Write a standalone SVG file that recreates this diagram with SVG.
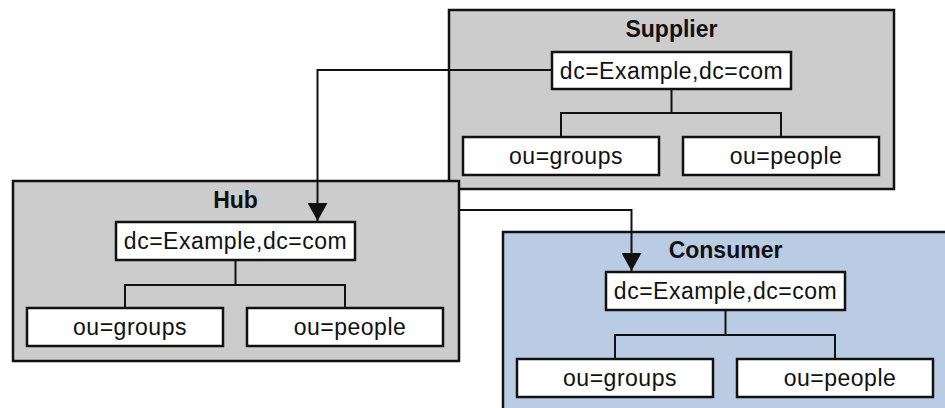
<svg xmlns="http://www.w3.org/2000/svg" width="945" height="408" viewBox="0 0 945 408">
<defs>
<style>
.outer{stroke:#111;stroke-width:2.5}
.gray{fill:#cccccc}
.blue{fill:#b9cce4}
.box{fill:#fff;stroke:#111;stroke-width:2.5}
.tree{fill:none;stroke:#111;stroke-width:2}
.conn{fill:none;stroke:#111;stroke-width:2}
.title{font-family:"Liberation Sans",Arial,sans-serif;font-weight:bold;font-size:23px;fill:#111;text-anchor:middle}
.lbl{font-family:"Liberation Sans",Arial,sans-serif;font-size:23px;letter-spacing:0.5px;fill:#111;text-anchor:middle}
</style>
<marker id="arrow" markerUnits="userSpaceOnUse" markerWidth="22" markerHeight="20" refX="19" refY="10.5" orient="auto" viewBox="0 0 22 21">
<path d="M0,0 L19,10.5 L0,21 Z" fill="#111"/>
</marker>
</defs>
<rect width="945" height="408" fill="#fff"/>

<g id="supplier">
<rect class="outer gray" x="449" y="10" width="445" height="179"/>
<text class="title" x="671.5" y="37">Supplier</text>
<g id="supplier-root"><rect class="box" x="552" y="52" width="239" height="37"/><text class="lbl" x="671.5" y="79">dc=Example,dc=com</text></g>
<path class="tree" d="M671.5,89 V113 M561,137 V113 H781 V137"/>
<g id="supplier-groups"><rect class="box" x="463" y="137" width="196" height="38"/><text class="lbl" x="566" y="164">ou=groups</text></g>
<g id="supplier-people"><rect class="box" x="683" y="137" width="196" height="38"/><text class="lbl" x="786" y="164">ou=people</text></g>
</g>

<g id="hub">
<rect class="outer gray" x="13" y="181" width="446" height="180"/>
<text class="title" x="235.5" y="208">Hub</text>
<g id="hub-root"><rect class="box" x="116" y="222" width="239" height="38"/><text class="lbl" x="235.5" y="249">dc=Example,dc=com</text></g>
<path class="tree" d="M235.5,260 V285 M125,308 V285 H345 V308"/>
<g id="hub-groups"><rect class="box" x="27" y="308" width="196" height="38"/><text class="lbl" x="130" y="335">ou=groups</text></g>
<g id="hub-people"><rect class="box" x="247" y="308" width="196" height="38"/><text class="lbl" x="350" y="335">ou=people</text></g>
</g>

<g id="consumer">
<rect class="outer blue" x="503" y="232" width="446" height="180"/>
<text class="title" x="725.5" y="258">Consumer</text>
<g id="consumer-root"><rect class="box" x="606" y="272" width="239" height="38"/><text class="lbl" x="725.5" y="299">dc=Example,dc=com</text></g>
<path class="tree" d="M725.5,310 V335 M615,359 V335 H835 V359"/>
<g id="consumer-groups"><rect class="box" x="517" y="359" width="196" height="38"/><text class="lbl" x="620" y="386">ou=groups</text></g>
<g id="consumer-people"><rect class="box" x="737" y="359" width="196" height="38"/><text class="lbl" x="840" y="386">ou=people</text></g>
</g>

<g id="connectors">
<path class="conn" d="M552,70 H317.5 V221" marker-end="url(#arrow)"/>
<path class="conn" d="M459,210 H631.5 V271" marker-end="url(#arrow)"/>
</g>
</svg>
